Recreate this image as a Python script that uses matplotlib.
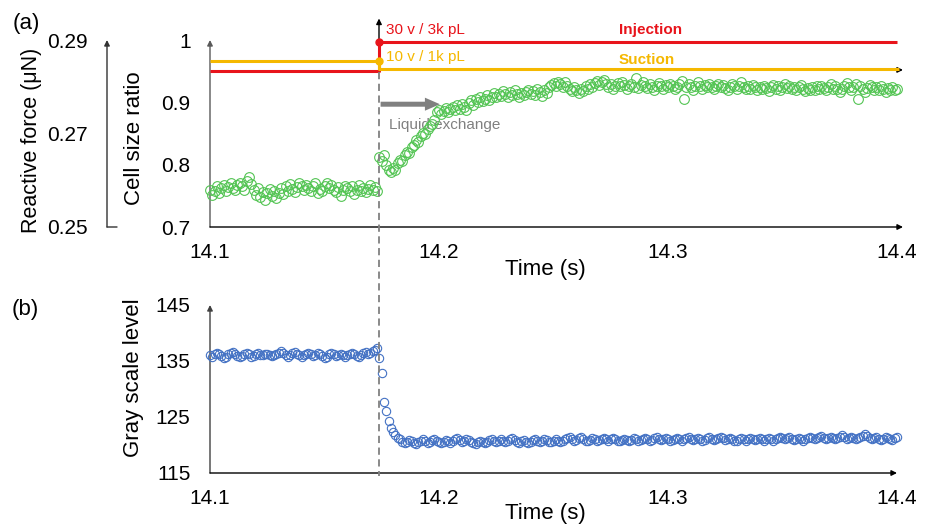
import numpy as np
import matplotlib
matplotlib.use("Agg")
import matplotlib.pyplot as plt
from matplotlib.lines import Line2D
from matplotlib.transforms import blended_transform_factory

plt.rcParams['font.family'] = ['Liberation Sans', 'DejaVu Sans']

# ---------------- data ----------------
T0 = 14.1          # first frame time (s)
FRAME_DT = 0.001   # frame interval (s)
EXCHANGE_T = 14.1738

cell_ratio = [
    0.760, 0.752, 0.758, 0.765, 0.755, 0.762, 0.768, 0.757, 0.764, 0.770,
    0.763, 0.759, 0.768, 0.771, 0.765, 0.760, 0.773, 0.781, 0.769, 0.760,
    0.752, 0.763, 0.748, 0.756, 0.744, 0.754, 0.761, 0.750, 0.758, 0.747,
    0.755, 0.762, 0.753, 0.766, 0.758, 0.769, 0.761, 0.756, 0.764, 0.771,
    0.766, 0.759, 0.768, 0.762, 0.757, 0.765, 0.770, 0.754, 0.761, 0.758,
    0.766, 0.771, 0.763, 0.768, 0.760, 0.756, 0.764, 0.750, 0.759, 0.766,
    0.762, 0.757, 0.765, 0.753, 0.760, 0.767, 0.758, 0.763, 0.756, 0.761,
    0.768, 0.759, 0.764, 0.757,
    0.812, 0.806, 0.815, 0.800, 0.792, 0.788,
    0.795, 0.791, 0.803, 0.808, 0.806, 0.815, 0.820, 0.818, 0.828, 0.832,
    0.840, 0.837, 0.846, 0.851, 0.849, 0.858, 0.862, 0.866, 0.872, 0.885,
    0.888, 0.882, 0.886, 0.891, 0.884, 0.889, 0.893, 0.887, 0.895, 0.890,
    0.897, 0.892, 0.888, 0.899, 0.903, 0.896, 0.905, 0.900, 0.908, 0.902,
    0.906, 0.912, 0.904, 0.909, 0.915, 0.908, 0.913, 0.910, 0.918, 0.914,
    0.909, 0.916, 0.912, 0.919, 0.913, 0.908, 0.915, 0.911, 0.917, 0.920,
    0.914, 0.918, 0.912, 0.921, 0.916, 0.910, 0.919, 0.915, 0.924, 0.928,
    0.931, 0.926, 0.933, 0.929, 0.925, 0.932, 0.927, 0.921, 0.918, 0.924,
    0.920, 0.915, 0.922, 0.918, 0.926, 0.921, 0.929, 0.925, 0.931, 0.934,
    0.928, 0.932, 0.936, 0.930, 0.925, 0.929, 0.922, 0.926, 0.931, 0.927,
    0.933, 0.928, 0.922, 0.926, 0.930, 0.924, 0.939, 0.923, 0.928, 0.932,
    0.927, 0.923, 0.929, 0.925, 0.920, 0.926, 0.931, 0.927, 0.922, 0.928,
    0.924, 0.930, 0.926, 0.921, 0.925, 0.930, 0.935, 0.905, 0.924, 0.929,
    0.925, 0.920, 0.927, 0.932, 0.926, 0.922, 0.928, 0.924, 0.929, 0.925,
    0.921, 0.926, 0.930, 0.924, 0.928, 0.923, 0.919, 0.925, 0.930, 0.926,
    0.922, 0.927, 0.933, 0.925, 0.921, 0.926, 0.922, 0.928, 0.924, 0.919,
    0.925, 0.921, 0.927, 0.923, 0.918, 0.924, 0.928, 0.922, 0.926, 0.920,
    0.925, 0.929, 0.923, 0.927, 0.921, 0.925, 0.920, 0.924, 0.928, 0.922,
    0.918, 0.923, 0.919, 0.924, 0.920, 0.926, 0.921, 0.927, 0.923, 0.919,
    0.924, 0.929, 0.922, 0.926, 0.921, 0.916, 0.922, 0.927, 0.931, 0.925,
    0.920, 0.925, 0.929, 0.906, 0.927, 0.921, 0.917, 0.923, 0.928, 0.924,
    0.919, 0.924, 0.920, 0.926, 0.921, 0.917, 0.923, 0.919, 0.924, 0.920, 0.922,
]

gray_level = [
    136.0, 135.8, 136.2, 136.5, 136.3, 135.9, 135.6, 135.8, 136.2, 136.4,
    136.6, 136.3, 135.9, 135.7, 135.9, 136.3, 136.5, 136.2, 135.8, 135.9,
    136.2, 136.4, 136.1, 136.0, 136.2, 136.3, 136.1, 135.9, 136.0, 136.3,
    136.5, 136.7, 136.4, 136.0, 135.8, 136.1, 136.4, 136.6, 136.3, 136.0,
    135.8, 136.0, 136.3, 136.5, 136.2, 135.9, 136.1, 136.4, 136.2, 135.9,
    135.6, 135.8, 136.2, 136.5, 136.3, 135.9, 136.0, 136.3, 136.1, 135.8,
    136.0, 136.3, 136.5, 136.2, 135.9, 135.8, 136.1, 136.4, 136.6, 136.3,
    136.5, 136.8, 136.9, 137.4,
    135.6, 132.9, 127.6, 126.0, 124.3, 123.1, 122.3, 121.8, 121.3, 121.0,
    120.6, 120.3, 120.5, 120.9, 120.7, 120.4,
    120.2, 120.5, 120.8, 121.0, 120.7, 120.4, 120.6, 120.9, 121.1, 120.8,
    120.5, 120.3, 120.6, 120.9, 120.7, 120.4, 120.7, 121.0, 121.2, 120.9,
    120.6, 120.8, 121.1, 120.9, 120.6, 120.3, 120.2, 120.5, 120.8, 120.6,
    120.3, 120.6, 120.9, 121.1, 120.8, 120.6, 120.8, 121.0, 120.7, 120.5,
    120.7, 121.0, 121.2, 120.9, 120.6, 120.4, 120.7, 120.9, 120.6, 120.4,
    120.6, 120.9, 121.1, 120.8, 120.6, 120.8, 121.1, 120.9, 120.6, 120.5,
    120.8, 121.0, 120.7, 120.5, 120.7, 121.0, 121.2, 121.4, 121.1, 120.8,
    120.9, 121.2, 121.4, 121.1, 120.8, 120.7, 120.9, 121.2, 121.0, 120.7,
    120.9, 121.1, 121.3, 121.0, 120.8, 121.0, 121.2, 121.0, 120.8, 120.7,
    120.9, 121.1, 120.9, 120.7, 120.9, 121.2, 121.0, 120.8, 120.9, 121.1,
    121.3, 121.0, 120.8, 120.9, 121.2, 121.4, 121.1, 120.9, 121.0, 121.2,
    121.0, 120.8, 120.9, 121.1, 121.3, 121.0, 120.8, 121.0, 121.2, 121.4,
    121.1, 120.9, 121.1, 121.3, 121.0, 120.7, 120.9, 121.2, 121.4, 121.1,
    120.9, 121.1, 121.3, 121.5, 121.2, 120.9, 121.0, 121.3, 121.1, 120.8,
    120.7, 121.0, 121.2, 121.0, 120.8, 121.0, 121.3, 121.1, 120.9, 121.1,
    121.3, 121.0, 120.8, 121.0, 121.2, 121.0, 120.8, 121.0, 121.3, 121.5,
    121.2, 121.0, 121.2, 121.4, 121.1, 120.9, 121.1, 121.3, 121.0, 120.8,
    121.0, 121.3, 121.5, 121.2, 121.0, 121.2, 121.4, 121.6, 121.3, 121.1,
    121.3, 121.5, 121.2, 121.0, 121.2, 121.5, 121.7, 121.4, 121.1, 121.3,
    121.5, 121.3, 121.0, 121.2, 121.4, 121.6, 121.9, 121.6, 121.3, 121.0,
    121.2, 121.4, 121.1, 120.9, 121.1, 121.4, 121.2, 121.0, 120.9, 121.2, 121.5,
]

# step signals (force axis units)
injection_t = [14.1, EXCHANGE_T, EXCHANGE_T, 14.4]
injection_f = [0.2834, 0.2834, 0.2895, 0.2895]
suction_t = [14.1, EXCHANGE_T, EXCHANGE_T, 14.401]
suction_f = [0.2855, 0.2855, 0.2838, 0.2838]

x_ticks = [14.1, 14.2, 14.3, 14.4]
x_ticklabels = ['14.1', '14.2', '14.3', '14.4']
cell_ticks = [0.7, 0.8, 0.9, 1.0]
cell_ticklabels = ['0.7', '0.8', '0.9', '1']
force_ticks = [0.25, 0.27, 0.29]
force_ticklabels = ['0.25', '0.27', '0.29']
gray_ticks = [115, 125, 135, 145]
gray_ticklabels = ['115', '125', '135', '145']

t_cell = T0 + FRAME_DT * np.arange(len(cell_ratio))
t_gray = T0 + FRAME_DT * np.arange(len(gray_level))

# ---------------- style ----------------
GREEN = '#52C452'
BLUE = '#4472C4'
RED = '#E8141B'
GOLD = '#F5B800'
GREYTXT = '#808080'
AXGREY = '#595959'
TICK_FS = 15
LAB_FS = 16
ANN_FS = 11

W, H = 926, 524
fig = plt.figure(figsize=(W / 100, H / 100), dpi=100)


def fx(px):
    return px / W


def fy(py):
    return 1 - py / H


def arrow_axis(ax, start, end, color, head=True, lw=1.0):
    ax.annotate('', xy=end, xytext=start, xycoords='axes fraction',
                textcoords='axes fraction', annotation_clip=False,
                arrowprops=dict(arrowstyle='-|>' if head else '-', color=color,
                                lw=lw, mutation_scale=8, shrinkA=0, shrinkB=0))


# ---------- panel (a) ----------
ax1 = fig.add_axes([fx(210), fy(227), (897 - 210) / W, (227 - 40) / H])
ax1.set_xlim(14.1, 14.4)
ax1.set_ylim(0.7, 1.0)
for s in ax1.spines.values():
    s.set_visible(False)
ax1.set_xticks(x_ticks)
ax1.set_xticklabels(x_ticklabels)
ax1.set_yticks(cell_ticks)
ax1.set_yticklabels(cell_ticklabels)
ax1.tick_params(axis='x', length=0, pad=11.5, labelsize=TICK_FS)
ax1.tick_params(axis='y', length=0, pad=14, labelsize=TICK_FS)
arrow_axis(ax1, (0, 0), (0, 1.0), AXGREY)
arrow_axis(ax1, (0, 0), ((903 - 210) / 687, 0), 'black')

ax1.plot(t_cell, cell_ratio, 'o', mfc='none', mec=GREEN, ms=7, mew=0.8,
         zorder=3, clip_on=False)

# force (secondary) scale for the step signals
axf = ax1.twinx()
axf.set_ylim(0.25, 0.29)
axf.axis('off')
axf.annotate('', xy=(14.4026, 0.2836), xytext=(EXCHANGE_T, 0.2836),
             xycoords='data', annotation_clip=False,
             arrowprops=dict(arrowstyle='-|>', color='black', lw=1.0,
                             mutation_scale=8, shrinkA=0, shrinkB=0), zorder=2)
axf.annotate('', xy=(EXCHANGE_T, 0.2946), xytext=(EXCHANGE_T, 0.2836),
             xycoords='data', annotation_clip=False,
             arrowprops=dict(arrowstyle='-|>', color='black', lw=1.0,
                             mutation_scale=8, shrinkA=0, shrinkB=0), zorder=2)
axf.plot(injection_t, injection_f, color=RED, lw=2.2, clip_on=False, zorder=4,
         solid_capstyle='butt')
axf.plot(suction_t, suction_f, color=GOLD, lw=2.2, clip_on=False, zorder=4,
         solid_capstyle='butt')
axf.plot([EXCHANGE_T], [injection_f[2]], 'o', color=RED, ms=5, clip_on=False, zorder=5)
axf.plot([EXCHANGE_T], [suction_f[1]], 'o', color=GOLD, ms=5, clip_on=False, zorder=5)

axf.text(14.1769, 0.2921, '30 v / 3k pL', color=RED, fontsize=ANN_FS,
         ha='left', va='center')
axf.text(14.1769, 0.2864, '10 v / 1k pL', color=GOLD, fontsize=ANN_FS,
         ha='left', va='center')
axf.text(14.2786, 0.2921, 'Injection', color=RED, fontsize=ANN_FS,
         fontweight='bold', ha='left', va='center')
axf.text(14.2786, 0.2858, 'Suction', color=GOLD, fontsize=ANN_FS,
         fontweight='bold', ha='left', va='center')

# liquid exchange arrow
ax1.annotate('', xy=(14.2004, 0.897), xytext=(14.1745, 0.897),
             arrowprops=dict(arrowstyle='simple,head_length=0.54,head_width=0.47,tail_width=0.18',
                             color=GREYTXT, mutation_scale=20, shrinkA=0, shrinkB=0, lw=0))
ax1.text(14.1782, 0.8636, 'Liquid exchange', color=GREYTXT, fontsize=ANN_FS,
         ha='left', va='center', zorder=2)

# reactive force axis
axr = fig.add_axes([fx(107), fy(227), (117 - 107) / W, (227 - 40) / H])
axr.set_ylim(0.25, 0.29)
axr.set_xlim(0, 1)
for s in axr.spines.values():
    s.set_visible(False)
axr.set_xticks([])
axr.set_yticks(force_ticks)
axr.set_yticklabels(force_ticklabels)
axr.tick_params(axis='y', length=0, pad=13.5, labelsize=TICK_FS)
axr.patch.set_alpha(0)
arrow_axis(axr, (0, 0), (0, 1.0), '#333333')
arrow_axis(axr, (0, 0), (1, 0), '#333333', head=False)

# ---------- panel (b) ----------
ax2 = fig.add_axes([fx(210), fy(473), (897 - 210) / W, (473 - 305) / H])
ax2.set_xlim(14.1, 14.4)
ax2.set_ylim(115, 145)
for s in ax2.spines.values():
    s.set_visible(False)
ax2.set_xticks(x_ticks)
ax2.set_xticklabels(x_ticklabels)
ax2.set_yticks(gray_ticks)
ax2.set_yticklabels(gray_ticklabels)
ax2.tick_params(axis='x', length=0, pad=11.5, labelsize=TICK_FS)
ax2.tick_params(axis='y', length=0, pad=14, labelsize=TICK_FS)
arrow_axis(ax2, (0, 0), (0, 1.0), '#404040')
arrow_axis(ax2, (0, 0), (1.0, 0), 'black')
ax2.plot(t_gray, gray_level, 'o', mfc='none', mec=BLUE, ms=6, mew=0.8,
         zorder=3, clip_on=False)

# dashed exchange marker across both panels
trans = blended_transform_factory(ax1.transData, fig.transFigure)
fig.add_artist(Line2D([EXCHANGE_T, EXCHANGE_T], [fy(72), fy(476)], transform=trans,
                      color=GREYTXT, lw=1.3, ls=(0, (4, 2.5)), zorder=1))

# labels
fig.text(fx(32), fy(140), 'Reactive force (μN)', rotation=90, ha='center',
         va='center', fontsize=LAB_FS - 0.5)
fig.text(fx(135), fy(138), 'Cell size ratio', rotation=90, ha='center',
         va='center', fontsize=LAB_FS)
fig.text(fx(134), fy(378), 'Gray scale level', rotation=90, ha='center',
         va='center', fontsize=LAB_FS)
fig.text(fx(545), fy(270), 'Time (s)', ha='center', va='center', fontsize=LAB_FS)
fig.text(fx(545), fy(513), 'Time (s)', ha='center', va='center', fontsize=LAB_FS)
fig.text(fx(26), fy(24), '(a)', ha='center', va='center', fontsize=LAB_FS)
fig.text(fx(25), fy(310), '(b)', ha='center', va='center', fontsize=LAB_FS)

fig.savefig('out.png', dpi=100)
